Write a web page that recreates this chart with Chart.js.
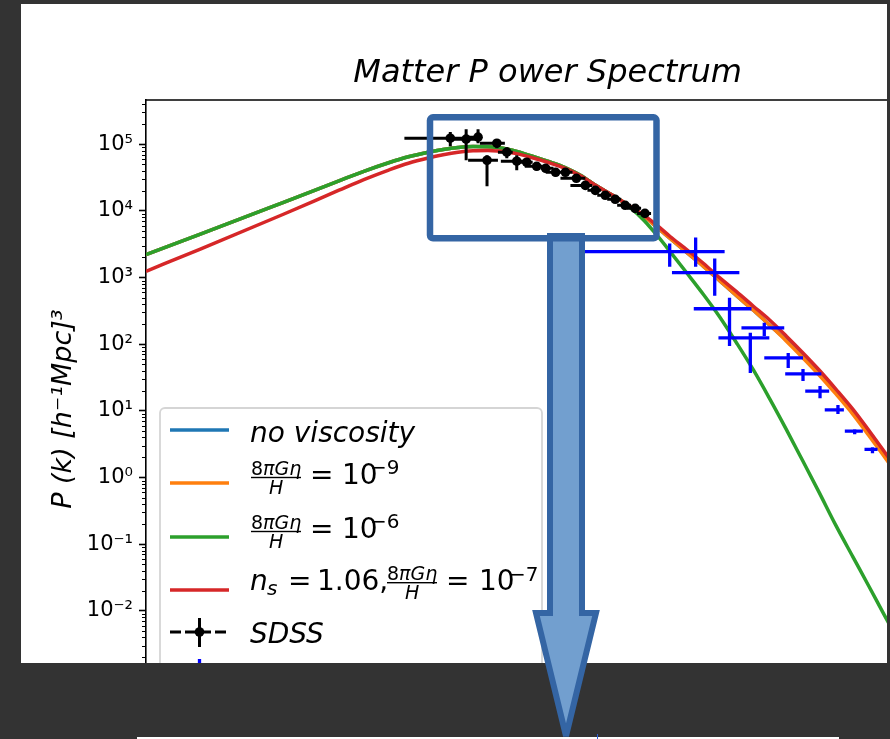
<!DOCTYPE html>
<html>
<head>
<meta charset="utf-8">
<script src="https://cdn.jsdelivr.net/npm/chart.js@4.4.1/dist/chart.umd.min.js"></script>
<style>
  html, body { margin: 0; padding: 0; width: 890px; height: 739px; overflow: hidden; background: #333333; }
  #panel { position: absolute; left: 21px; top: 4px; width: 866px; height: 659px; background: #ffffff; overflow: hidden; }
  #chart { position: absolute; left: 0; top: 0; }
  #strip { position: absolute; left: 137px; top: 737px; width: 702px; height: 2px; background: #ffffff; }
  #mark { position: absolute; left: 597px; top: 734px; width: 1px; height: 5px; background: #2f5fd8; }
  #overlay { position: absolute; left: 0; top: 0; }
</style>
</head>
<body>
<div id="panel"><canvas id="chart" width="933" height="719"></canvas></div>
<div id="strip"></div>
<div id="mark"></div>
<svg id="overlay" width="890" height="739" xmlns="http://www.w3.org/2000/svg">
  <path d="M550 236 L582 236 L582 613 L596 613 L566 736 L536 613 L550 613 Z"
        fill="#729fcf" stroke="#3465a4" stroke-width="6" stroke-linejoin="miter"/>
  <rect x="430" y="117.3" width="226.5" height="121" rx="3" ry="3"
        fill="none" stroke="#3465a4" stroke-width="6.5"/>
</svg>
<script>
// wavenumber grid k [h/Mpc] for the model spectra
const kGrid = [1.0e-4, 2.16e-4, 7.05e-4, 1.59e-3, 2.27e-3, 3.24e-3, 4.30e-3, 5.72e-3, 7.08e-3, 8.77e-3,
  1.086e-2, 1.345e-2, 1.55e-2, 1.79e-2, 2.06e-2, 2.48e-2, 3.16e-2, 4.03e-2, 5.06e-2, 6.44e-2,
  8.22e-2, 0.103, 0.126, 0.152, 0.183, 0.232, 0.296, 0.372, 0.474, 0.604,
  0.759, 0.966, 1.23, 1.55, 1.97, 2.51, 3.15, 3.85, 4.98];

// P(k) [(Mpc/h)^3] for each model
const pNoViscosity = [2.21e3, 4.42e3, 1.32e4, 2.82e4, 3.92e4, 5.27e4, 6.48e4, 7.58e4, 8.32e4, 8.92e4,
  9.24e4, 9.17e4, 8.92e4, 8.41e4, 7.71e4, 6.71e4, 5.55e4, 4.51e4, 3.42e4, 2.33e4,
  1.65e4, 1.17e4, 8.25e3, 5.63e3, 3.85e3, 2.37e3, 1.46e3, 897, 533, 323,
  195, 116, 66.6, 37.0, 19.1, 9.57, 4.62, 2.39, 1.0];
const pEta1e9 = [2.21e3, 4.42e3, 1.32e4, 2.82e4, 3.92e4, 5.27e4, 6.48e4, 7.58e4, 8.32e4, 8.92e4,
  9.24e4, 9.17e4, 8.92e4, 8.41e4, 7.71e4, 6.71e4, 5.55e4, 4.51e4, 3.42e4, 2.33e4,
  1.65e4, 1.17e4, 8.25e3, 5.63e3, 3.85e3, 2.37e3, 1.46e3, 897, 533, 323,
  195, 112, 62.2, 34.5, 17.9, 8.93, 4.31, 2.23, 0.938];
const pEta1e6 = [2.21e3, 4.42e3, 1.32e4, 2.82e4, 3.92e4, 5.27e4, 6.48e4, 7.58e4, 8.32e4, 8.92e4,
  9.24e4, 9.17e4, 8.92e4, 8.41e4, 7.71e4, 6.71e4, 5.55e4, 4.51e4, 3.42e4, 2.33e4,
  1.65e4, 1.13e4, 7.18e3, 4.27e3, 2.45e3, 1.18e3, 552, 258, 105, 41.0,
  15.5, 5.31, 1.75, 0.598, 0.191, 0.0650, 0.0238, 9.66e-3, 3.08e-3];
const pNs106Eta1e7 = [1.24e3, 2.65e3, 8.74e3, 2.04e4, 2.94e4, 4.09e4, 5.18e4, 6.20e4, 6.92e4, 7.55e4,
  7.95e4, 8.04e4, 7.90e4, 7.58e4, 7.15e4, 6.37e4, 5.36e4, 4.38e4, 3.36e4, 2.33e4,
  1.65e4, 1.17e4, 8.54e3, 6.04e3, 4.12e3, 2.63e3, 1.62e3, 995, 613, 371,
  232, 133, 73.9, 41.0, 21.2, 10.6, 5.13, 2.65, 1.12];

// SDSS band powers with k-bin edges and 1-sigma range
const sdssK   = [7.84e-3, 9.84e-3, 1.167e-2, 1.327e-2, 1.528e-2, 1.762e-2, 2.032e-2, 2.344e-2, 2.704e-2, 3.077e-2,
  3.548e-2, 4.083e-2, 4.775e-2, 5.433e-2, 6.266e-2, 7.228e-2, 8.337e-2, 9.616e-2, 0.1109, 0.1276];
const sdssKLo = [4.06e-3, 8.17e-3, 1.012e-2, 1.012e-2, 1.199e-2, 1.552e-2, 1.618e-2, 1.977e-2, 2.280e-2, 2.864e-2,
  3.077e-2, 3.648e-2, 3.802e-2, 4.385e-2, 5.598e-2, 6.442e-2, 7.430e-2, 8.570e-2, 9.886e-2, 0.1140];
const sdssKHi = [1.012e-2, 1.167e-2, 1.199e-2, 1.552e-2, 1.714e-2, 1.918e-2, 2.280e-2, 2.553e-2, 2.944e-2, 3.443e-2,
  3.864e-2, 4.519e-2, 5.433e-2, 5.998e-2, 6.823e-2, 7.870e-2, 9.078e-2, 0.1047, 0.1208, 0.1393];
const sdssP   = [1.23e5, 1.19e5, 1.275e5, 5.74e4, 1.035e5, 7.58e4, 5.55e4, 5.36e4, 4.66e4, 4.35e4,
  3.79e4, 3.79e4, 3.08e4, 2.41e4, 2.03e4, 1.71e4, 1.49e4, 1.21e4, 1.09e4, 9.15e3];
const sdssPLo = [9.33e4, 5.74e4, 1.035e5, 2.33e4, 8.71e4, 6.16e4, 4.06e4, 4.66e4, 4.06e4, 3.79e4,
  3.30e4, 3.30e4, 2.77e4, 2.10e4, 1.83e4, 1.54e4, 1.34e4, 1.09e4, 9.80e3, 8.24e3];
const sdssPHi = [1.52e5, 1.68e5, 1.68e5, 6.83e4, 1.19e5, 9.01e4, 6.83e4, 6.16e4, 5.36e4, 4.83e4,
  4.35e4, 4.35e4, 3.54e4, 2.68e4, 2.33e4, 1.89e4, 1.65e4, 1.34e4, 1.21e4, 1.02e4];

// small-scale band powers (blue crosses)
const highK   = [0.182, 0.264, 0.347, 0.429, 0.578, 0.706, 0.995, 1.23, 1.57, 2.03, 2.58, 3.33];
const highKLo = [0.0506, 0.128, 0.188, 0.257, 0.366, 0.509, 0.706, 0.953, 1.27, 1.68, 2.24, 2.97];
const highKHi = [0.268, 0.400, 0.494, 0.588, 0.759, 0.940, 1.23, 1.60, 1.79, 2.21, 2.90, 3.58];
const highP   = [2450, 2450, 1183, 340, 124, 176, 62.2, 35.8, 19.8, 10.3, 4.96, 2.65];
const highPLo = [1455, 1455, 533, 94.2, 37.0, 133, 44.0, 28.1, 15.5, 8.93, 4.47, 2.31];
const highPHi = [3236, 3981, 1923, 498, 148, 209, 74.0, 42.5, 23.6, 12.2, 5.31, 2.84];

// axis ranges and labelled decades
const kRange = [1e-4, 10];
const pRange = [2.45e-4, 4.6e5];
const yDecades = [-3, -2, -1, 0, 1, 2, 3, 4, 5];

const seriesLabels = ['no viscosity', '8πGη/H = 10⁻⁹', '8πGη/H = 10⁻⁶', 'n_s = 1.06, 8πGη/H = 10⁻⁷', 'SDSS'];
const seriesColors = ['#1f77b4', '#ff7f0e', '#2ca02c', '#d62728', '#000000', '#0000ff'];

const SUP = { '0': '⁰', '1': '¹', '2': '²', '3': '³', '4': '⁴', '5': '⁵', '6': '⁶', '7': '⁷', '8': '⁸', '9': '⁹', '-': '⁻' };
const sup = n => String(n).split('').map(ch => SUP[ch]).join('');

const toPoints = (xs, ys) => xs.map((x, i) => ({ x, y: ys[i] }));

// horizontal and vertical error bars as one broken polyline
function errorSegments(k, kLo, kHi, p, pLo, pHi) {
  const pts = [];
  k.forEach((kk, i) => {
    pts.push({ x: kLo[i], y: p[i] }, { x: kHi[i], y: p[i] }, { x: kk, y: null });
    pts.push({ x: kk, y: pLo[i] }, { x: kk, y: pHi[i] }, { x: kk, y: null });
  });
  return pts;
}

const curve = (label, values, color, order) => ({
  label, data: toPoints(kGrid, values), borderColor: color, borderWidth: 3.5,
  pointRadius: 0, cubicInterpolationMode: 'monotone', fill: false, order
});

const datasets = [
  curve(seriesLabels[0], pNoViscosity, seriesColors[0], 6),
  curve(seriesLabels[1], pEta1e9, seriesColors[1], 5),
  curve(seriesLabels[2], pEta1e6, seriesColors[2], 4),
  curve(seriesLabels[3], pNs106Eta1e7, seriesColors[3], 3),
  { label: 'SDSS error bars', data: errorSegments(sdssK, sdssKLo, sdssKHi, sdssP, sdssPLo, sdssPHi),
    borderColor: seriesColors[4], borderWidth: 3, pointRadius: 0, spanGaps: false, tension: 0, order: 2 },
  { label: seriesLabels[4], data: toPoints(sdssK, sdssP), showLine: false, pointRadius: 4.8,
    pointBackgroundColor: seriesColors[4], pointBorderWidth: 0, borderColor: seriesColors[4], order: 1 },
  { label: 'small-scale error bars', data: errorSegments(highK, highKLo, highKHi, highP, highPLo, highPHi),
    borderColor: seriesColors[5], borderWidth: 3.3, pointRadius: 0, spanGaps: false, tension: 0, order: 0 }
];

// short minor ticks at 2..9 x 10^n on the log axis
const minorTicks = {
  id: 'minorTicks',
  afterDraw(chart) {
    const s = chart.scales.y, c = chart.ctx, left = chart.chartArea.left;
    c.save();
    c.strokeStyle = '#000'; c.lineWidth = 1.1;
    c.beginPath();
    for (let e = -4; e <= 5; e++) {
      for (let m = 2; m <= 9; m++) {
        const v = m * Math.pow(10, e);
        if (v < s.min || v > s.max) continue;
        const y = Math.round(s.getPixelForValue(v)) + 0.5;
        c.moveTo(left - 4, y); c.lineTo(left, y);
      }
    }
    c.stroke();
    c.restore();
  }
};

// top and right spines
const frame = {
  id: 'frame',
  afterDraw(chart) {
    const c = chart.ctx, a = chart.chartArea;
    c.save();
    c.strokeStyle = '#000'; c.lineWidth = 1.6;
    c.beginPath();
    c.moveTo(a.left, a.top); c.lineTo(a.right, a.top); c.lineTo(a.right, a.bottom);
    c.stroke();
    c.restore();
  }
};

const font = (size, italic) => (italic ? 'italic ' : '') + size + 'px "DejaVu Sans"';

function drawFraction(c, x0, barY) {
  c.font = font(19, false);
  c.fillText('8', x0, barY - 3);
  const w8 = c.measureText('8').width;
  c.font = font(19, true);
  c.fillText('πGη', x0 + w8, barY - 3);
  c.fillRect(x0, barY - 0.7, 50, 1.4);
  c.fillText('H', x0 + 18, barY + 16);
}

// legend with typeset labels
const mathLegend = {
  id: 'mathLegend',
  afterDraw(chart) {
    const c = chart.ctx, a = chart.chartArea;
    const L = a.left + 14, T = a.top + 308;
    const cols = chart.data.datasets.map(d => d.borderColor);
    c.save();
    c.beginPath();
    c.roundRect(L, T, 382, 330, 5);
    c.fillStyle = 'rgba(255,255,255,0.8)'; c.fill();
    c.strokeStyle = '#d5d5d5'; c.lineWidth = 1.8; c.stroke();

    const hx0 = L + 10, hx1 = L + 69, hxm = L + 39.5;
    const handle = (y, color) => {
      c.beginPath(); c.moveTo(hx0, y); c.lineTo(hx1, y);
      c.strokeStyle = color; c.lineWidth = 3.5; c.stroke();
    };
    handle(T + 22, cols[0]);
    handle(T + 75, cols[1]);
    handle(T + 129, cols[2]);
    handle(T + 182, cols[3]);

    // SDSS handle: dashed line, marker and vertical bar
    c.strokeStyle = cols[4]; c.lineWidth = 3;
    c.setLineDash([11, 4]);
    c.beginPath(); c.moveTo(hx0, T + 224); c.lineTo(hx1, T + 224); c.stroke();
    c.setLineDash([]);
    c.beginPath(); c.moveTo(hxm, T + 210); c.lineTo(hxm, T + 239); c.stroke();
    c.beginPath(); c.arc(hxm, T + 224, 4.8, 0, Math.PI * 2); c.fillStyle = cols[4]; c.fill();

    // small-scale data handle
    c.strokeStyle = cols[6]; c.lineWidth = 3.3;
    c.beginPath(); c.moveTo(hxm, T + 251); c.lineTo(hxm, T + 279); c.stroke();
    c.beginPath(); c.moveTo(hx0, T + 265); c.lineTo(hx1, T + 265); c.stroke();

    c.fillStyle = '#000'; c.textBaseline = 'alphabetic'; c.textAlign = 'left';
    c.font = font(28, true);
    c.fillText('no viscosity', L + 90, T + 34);

    [[69.5, '−9'], [123.5, '−6']].forEach(([bar, ex]) => {
      drawFraction(c, L + 91, T + bar);
      c.font = font(28, false);
      c.fillText('=', L + 150, T + bar + 6);
      c.fillText('10', L + 182, T + bar + 6);
      c.font = font(20, false);
      c.fillText(ex, L + 210, T + bar - 3.5);
    });

    c.font = font(28, true);
    c.fillText('n', L + 90, T + 182);
    c.font = font(20, true);
    c.fillText('s', L + 107, T + 187);
    c.font = font(28, false);
    c.fillText('=', L + 128, T + 182);
    c.fillText('1.06,', L + 157, T + 182);
    drawFraction(c, L + 227, T + 174.7);
    c.font = font(28, false);
    c.fillText('=', L + 286, T + 182);
    c.fillText('10', L + 319, T + 182);
    c.font = font(20, false);
    c.fillText('−7', L + 349, T + 173);

    c.font = font(28, true);
    c.fillText('SDSS', L + 90, T + 235);
    c.restore();
  }
};

new Chart(document.getElementById('chart').getContext('2d'), {
  type: 'line',
  data: { datasets },
  options: {
    responsive: false,
    animation: false,
    devicePixelRatio: 1,
    layout: { padding: 0 },
    scales: {
      x: { type: 'logarithmic', min: kRange[0], max: kRange[1], display: false },
      y: {
        type: 'logarithmic', position: 'left', min: pRange[0], max: pRange[1],
        afterFit: s => { s.width = 125; s.paddingTop = 0; s.paddingBottom = 0; },
        afterBuildTicks: s => { s.ticks = yDecades.map(e => ({ value: Math.pow(10, e) })); },
        ticks: {
          autoSkip: false, color: '#000', padding: 6,
          font: { family: 'DejaVu Sans', size: 21 },
          callback: v => '10' + sup(Math.round(Math.log10(v)))
        },
        grid: { drawOnChartArea: false, drawTicks: true, tickLength: 7, tickWidth: 1.6, tickColor: '#000' },
        border: { display: true, color: '#000', width: 1.6 },
        title: {
          display: true, text: 'P (k) [h⁻¹Mpc]³', color: '#000',
          font: { family: 'DejaVu Sans', size: 27, style: 'italic' },
          padding: { top: 27, bottom: 0 }
        }
      }
    },
    plugins: {
      legend: { display: false },
      tooltip: { enabled: false },
      title: {
        display: true, text: 'Matter P ower Spectrum', fullSize: false, color: '#000',
        font: { family: 'DejaVu Sans', size: 32, style: 'italic', weight: 'normal' },
        padding: { top: 50, bottom: 7.6 }
      }
    }
  },
  plugins: [minorTicks, frame, mathLegend]
});
</script>
</body>
</html>
